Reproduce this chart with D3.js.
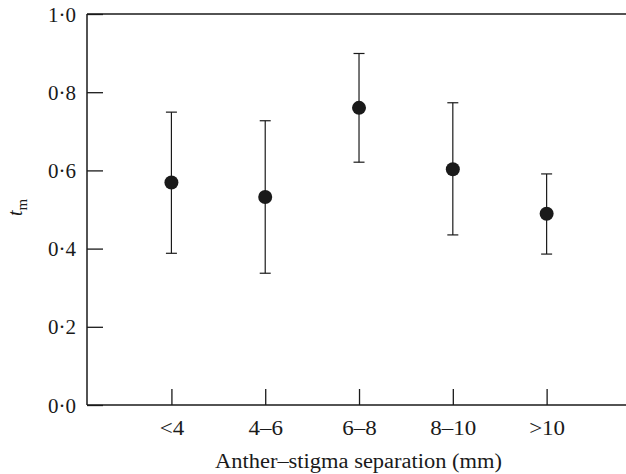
<!DOCTYPE html>
<html lang="en">
<head>
    <meta charset="UTF-8">
    <title>Anther-stigma separation vs tm</title>
    <script src="https://d3js.org/d3.v7.min.js"></script>
    <style>
        body { margin: 0; background: #fff; }
        text { font-family: "Liberation Serif", "Times New Roman", serif; fill: #1a1a1a; }
    </style>
</head>
<body>
    <div id="chart"></div>

    <script>
        // data
        const categories = ["<4", "4–6", "6–8", "8–10", ">10"];
        const means = [0.569, 0.532, 0.760, 0.603, 0.489];
        const upper = [0.749, 0.727, 0.899, 0.773, 0.591];
        const lower = [0.388, 0.337, 0.621, 0.435, 0.386];
        const yTicks = [0, 0.2, 0.4, 0.6, 0.8, 1.0];

        const width = 626;
        const height = 474;
        const margin = { top: 14, left: 87, bottom: 69 };

        const svg = d3.select("#chart")
            .append("svg")
            .attr("width", width)
            .attr("height", height);

        // category positions 1..5, plot runs from 0.1 to past the right edge
        const x = d3.scaleLinear()
            .domain([0.1, 6])
            .range([margin.left, margin.left + 5.9 * 93.8]);

        const y = d3.scaleLinear()
            .domain([0, 1])
            .range([height - margin.bottom, margin.top]);

        const ink = "#1a1a1a";

        // the original typeface is a bit wider than Liberation Serif
        function widen(sel, k) {
            sel.each(function () {
                const w = this.getComputedTextLength();
                d3.select(this).attr("textLength", w * k).attr("lengthAdjust", "spacingAndGlyphs");
            });
        }

        // y axis with inward ticks
        const yAxis = svg.append("g")
            .attr("transform", `translate(${margin.left},0)`)
            .call(d3.axisRight(y).tickValues(yTicks).tickSize(16).tickFormat(() => ""));
        yAxis.select(".domain").remove();
        yAxis.selectAll("line").attr("stroke", ink).attr("stroke-width", 1.3);

        yAxis.selectAll(".tick").append("text")
            .attr("x", -11)
            .attr("dy", "0.35em")
            .attr("text-anchor", "end")
            .style("font-size", "20px")
            .attr("textLength", 28)
            .attr("lengthAdjust", "spacingAndGlyphs")
            .text(d => d.toFixed(1).replace(".", "·"));

        // x axis with inward ticks
        const xAxis = svg.append("g")
            .attr("transform", `translate(0,${y(0)})`)
            .call(d3.axisTop(x).tickValues(d3.range(1, categories.length + 1)).tickSize(16).tickFormat(() => ""));
        xAxis.select(".domain").remove();
        xAxis.selectAll("line").attr("stroke", ink).attr("stroke-width", 1.3);

        xAxis.selectAll(".tick").append("text")
            .attr("y", 30)
            .attr("text-anchor", "middle")
            .style("font-size", "20px")
            .text(d => categories[d - 1])
            .call(widen, 1.15);

        // frame lines: left, bottom, top
        svg.append("line")
            .attr("x1", margin.left).attr("x2", margin.left)
            .attr("y1", y(1)).attr("y2", y(0))
            .attr("stroke", ink).attr("stroke-width", 1.5);
        svg.append("line")
            .attr("x1", margin.left).attr("x2", width)
            .attr("y1", y(0)).attr("y2", y(0))
            .attr("stroke", ink).attr("stroke-width", 1.5);
        svg.append("line")
            .attr("x1", margin.left).attr("x2", width)
            .attr("y1", y(1)).attr("y2", y(1))
            .attr("stroke", ink).attr("stroke-width", 1.5);

        // error bars
        const pts = categories.map((c, i) => ({ i: i + 1, m: means[i], hi: upper[i], lo: lower[i] }));
        const capHalf = 5.5;

        const bars = svg.append("g").selectAll("g")
            .data(pts)
            .join("g");

        bars.append("line")
            .attr("x1", d => x(d.i)).attr("x2", d => x(d.i))
            .attr("y1", d => y(d.hi)).attr("y2", d => y(d.lo))
            .attr("stroke", ink).attr("stroke-width", 1.2);
        bars.append("line")
            .attr("x1", d => x(d.i) - capHalf).attr("x2", d => x(d.i) + capHalf)
            .attr("y1", d => y(d.hi)).attr("y2", d => y(d.hi))
            .attr("stroke", ink).attr("stroke-width", 1.2);
        bars.append("line")
            .attr("x1", d => x(d.i) - capHalf).attr("x2", d => x(d.i) + capHalf)
            .attr("y1", d => y(d.lo)).attr("y2", d => y(d.lo))
            .attr("stroke", ink).attr("stroke-width", 1.2);
        bars.append("circle")
            .attr("cx", d => x(d.i))
            .attr("cy", d => y(d.m))
            .attr("r", 7)
            .attr("fill", ink);

        // axis titles
        svg.append("text")
            .attr("x", 358.5)
            .attr("y", 468)
            .attr("text-anchor", "middle")
            .style("font-size", "20px")
            .attr("textLength", 287)
            .attr("lengthAdjust", "spacingAndGlyphs")
            .text("Anther–stigma separation (mm)");

        const yt = svg.append("text")
            .attr("transform", `translate(22,${(y(0) + y(1)) / 2 - 2}) rotate(-90)`)
            .attr("text-anchor", "middle")
            .style("font-size", "20px");
        yt.append("tspan").style("font-style", "italic").text("t");
        yt.append("tspan").attr("dy", 5).style("font-size", "15px").text("m");
    </script>
</body>
</html>
